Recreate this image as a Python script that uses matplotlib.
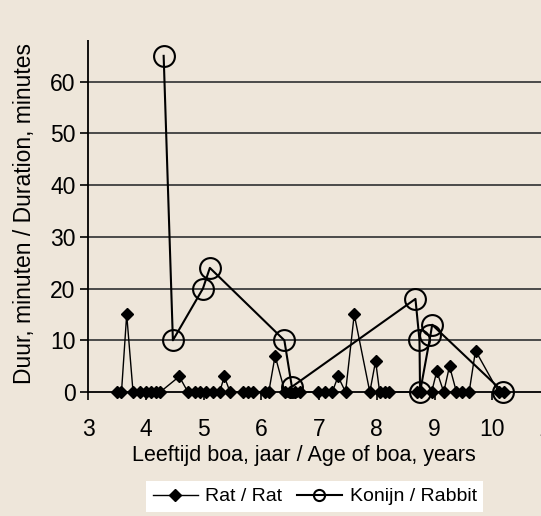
import matplotlib
matplotlib.use("Agg")
import matplotlib.pyplot as plt
from matplotlib.patches import Rectangle

plt.rcParams['font.family'] = ['Liberation Sans', 'DejaVu Sans']

# Rat / Rat
rat_age = [3.51, 3.58, 3.67, 3.78, 3.90, 4.00, 4.09, 4.18, 4.25, 4.58, 4.73, 4.85,
           4.94, 5.04, 5.17, 5.28, 5.36, 5.46, 5.68, 5.77, 5.86, 6.06, 6.13, 6.24,
           6.41, 6.49, 6.58, 6.67, 6.98, 7.10, 7.23, 7.33, 7.46, 7.61, 7.88, 7.98,
           8.05, 8.14, 8.21, 8.69, 8.77, 8.95, 9.04, 9.16, 9.26, 9.38, 9.48, 9.60,
           9.71, 10.11, 10.21]
rat_dur = [0, 0, 15, 0, 0, 0, 0, 0, 0, 3, 0, 0,
           0, 0, 0, 0, 3, 0, 0, 0, 0, 0, 0, 7,
           0, 0, 0, 0, 0, 0, 0, 3, 0, 15, 0, 6,
           0, 0, 0, 0, 0, 0, 4, 0, 5, 0, 0, 0,
           8, 0, 0]

# Konijn / Rabbit
rab_age = [4.31, 4.47, 4.99, 5.11, 6.40, 6.53, 8.67, 8.74, 8.75, 8.93, 8.96, 10.19]
rab_dur = [65, 10, 20, 24, 10, 1, 18, 10, 0, 11, 13, 0]

x_ticks = [3, 4, 5, 6, 7, 8, 9, 10, 11]
y_ticks = [0, 10, 20, 30, 40, 50, 60, 70]

bg = '#EEE6DA'
fig = plt.figure(figsize=(5.41, 5.16), dpi=100, facecolor=bg)
ax = fig.add_axes([88/541, 124/516, 462/541, 362/516])
ax.set_facecolor(bg)

ax.set_xlim(3, 11)
ax.set_ylim(0, 70)
ax.set_xticks(x_ticks)
ax.set_yticks(y_ticks)

for v in y_ticks[1:]:
    ax.axhline(v, color='#4a4a4a', lw=1.4, zorder=1)

for s in ['top', 'right']:
    ax.spines[s].set_visible(False)
ax.spines['left'].set_color('black')
ax.spines['bottom'].set_color('black')
ax.spines['left'].set_linewidth(1.3)
ax.spines['bottom'].set_linewidth(1.3)

ax.tick_params(axis='x', direction='out', length=6, width=1.2, pad=13, labelsize=16.5)
ax.tick_params(axis='y', direction='out', length=6, width=1.2, pad=3, labelsize=16.5)

ax.plot(rat_age, rat_dur, color='black', lw=1.0, marker='D', markersize=5.8,
        markerfacecolor='black', markeredgecolor='black', zorder=3, label='Rat / Rat',
        clip_on=False)
ax.plot(rab_age, rab_dur, color='black', lw=1.5, marker='o', markersize=15,
        markerfacecolor='none', markeredgecolor='black', markeredgewidth=1.5,
        zorder=4, label='Konijn / Rabbit', clip_on=False)

ax.set_xlabel('Leeftijd boa, jaar / Age of boa, years', fontsize=15.5)
ax.xaxis.set_label_coords((304 - 88) / 462, -(445 - 392) / 362)
ax.set_ylabel('Duur, minuten / Duration, minutes', fontsize=16.5)
ax.yaxis.set_label_coords(-(88 - 36) / 462, (392 - 214) / 362)

# cover clipped top region
fig.add_artist(Rectangle((0, 1 - 40/516), 1, 40/516, transform=fig.transFigure,
                         facecolor=bg, edgecolor='none', zorder=10))

h, l = ax.get_legend_handles_labels()
leg = fig.legend(h, l, loc='upper left', bbox_to_anchor=(146/541, 1 - 481/516), ncol=2,
                 frameon=True, fancybox=False, fontsize=14, handlelength=2.3,
                 columnspacing=0.75, handletextpad=0.4, borderpad=0.35,
                 borderaxespad=0)
leg.get_frame().set_facecolor('white')
leg.get_frame().set_edgecolor('none')
leg.get_frame().set_alpha(1)
leg.legend_handles[0].set_markersize(6)
leg.legend_handles[1].set_markersize(8)

fig.savefig('out.png', dpi=100, facecolor=bg)
